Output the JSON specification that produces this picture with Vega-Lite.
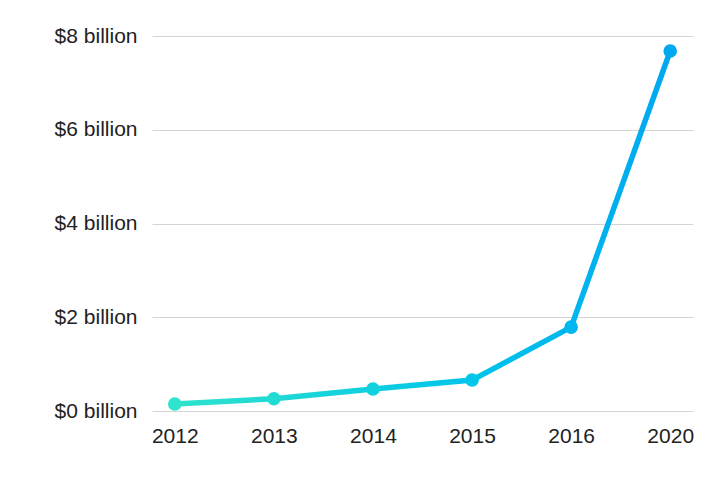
{
  "$schema": "https://vega.github.io/schema/vega-lite/v6.json",
  "width": 541,
  "height": 375,
  "autosize": {"type": "none"},
  "padding": {"left": 152, "top": 36, "right": 27, "bottom": 77},
  "background": "white",
  "config": {"view": {"stroke": null}, "font": "Liberation Sans"},
  "data": {"values": [
    {"year": "2012", "value": 0.15},
    {"year": "2013", "value": 0.26},
    {"year": "2014", "value": 0.47},
    {"year": "2015", "value": 0.66},
    {"year": "2016", "value": 1.79},
    {"year": "2020", "value": 7.68}
  ]},
  "encoding": {
    "x": {"field": "year", "type": "ordinal", "scale": {"type": "point", "padding": 0.23},
      "axis": {"title": null, "labelAngle": 0, "domain": false, "ticks": false, "labelFontSize": 21, "labelColor": "#222", "labelPadding": 14, "grid": false}},
    "y": {"field": "value", "type": "quantitative", "scale": {"domain": [0, 8], "nice": false},
      "axis": {"title": null, "values": [0, 2, 4, 6, 8], "labelExpr": "'$' + datum.value + ' billion'", "domain": false, "ticks": false, "labelFontSize": 21, "labelColor": "#222", "labelPadding": 15, "gridColor": "#d4d4d4", "gridWidth": 1.2}}
  },
  "layer": [
    {"mark": {"type": "line", "strokeWidth": 5.5, "color": {"gradient": "linear", "x1": 0, "y1": 0, "x2": 1, "y2": 0, "stops": [{"offset": 0, "color": "#2fe3cc"}, {"offset": 0.6, "color": "#00c4ea"}, {"offset": 1, "color": "#00a8f0"}]}}},
    {"mark": {"type": "point", "filled": true, "size": 185, "opacity": 1},
      "encoding": {"color": {"field": "year", "type": "ordinal", "legend": null,
        "scale": {"domain": ["2012", "2013", "2014", "2015", "2016", "2020"], "range": ["#2fe3cc", "#22dcd4", "#10d2de", "#00c6ea", "#00b6ee", "#00a8f0"]}}}}
  ]
}
